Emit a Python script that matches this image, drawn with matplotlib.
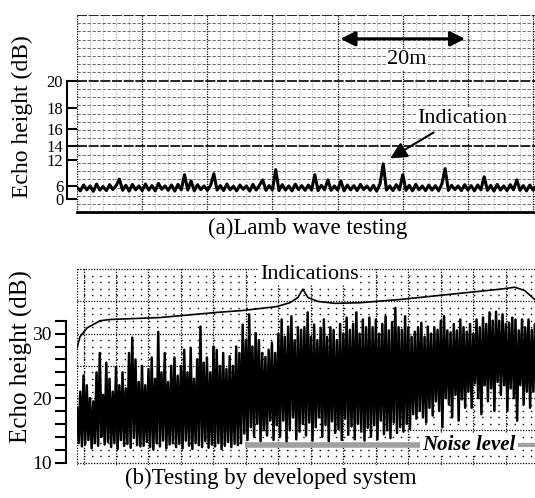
import numpy as np
import matplotlib.pyplot as plt
from matplotlib.ticker import FixedLocator, NullLocator

plt.rcParams['font.family'] = ['Liberation Serif', 'DejaVu Serif']

# (a) Lamb wave testing: recorder trace, echo height (dB) every 0.5 m
lamb_dist = np.arange(0, 71, 0.5)
lamb_db = [5.5, 4.2, 6.3, 4.6, 6.0, 4.0, 6.6, 4.5, 5.8, 4.3, 6.4, 4.7, 6.1, 8.0, 4.4, 6.2, 4.1, 6.5, 4.6, 6.0,
           4.3, 6.6, 4.5, 6.1, 4.2, 6.8, 4.8, 6.0, 4.4, 6.3, 4.1, 6.5, 4.6, 9.1, 4.5, 7.5, 4.2, 6.4, 4.7, 6.0,
           4.4, 6.2, 9.3, 4.5, 6.1, 4.3, 6.6, 4.6, 5.9, 4.2, 6.3, 4.8, 6.0, 4.1, 6.5, 4.5, 6.2, 7.8, 4.4, 6.1,
           4.6, 10.2, 4.3, 6.4, 4.5, 6.0, 4.2, 6.6, 4.7, 6.1, 4.4, 6.3, 4.5, 9.1, 4.3, 6.2, 4.6, 7.8, 4.4, 6.0,
           4.5, 7.5, 4.2, 6.3, 4.6, 6.1, 4.3, 6.5, 4.7, 6.0, 4.4, 6.2, 4.1, 6.6, 11.3, 4.5, 6.0, 4.3, 6.4, 4.6,
           9.1, 4.4, 6.2, 4.2, 6.5, 4.6, 6.0, 4.3, 6.3, 4.5, 6.1, 4.2, 6.6, 10.4, 4.4, 6.2, 4.7, 6.0, 4.3, 6.4,
           4.5, 6.1, 4.2, 6.3, 4.6, 8.6, 4.4, 6.2, 4.1, 6.5, 4.5, 6.0, 4.3, 6.4, 4.6, 7.8, 4.4, 6.1, 4.2, 6.3,
           4.5, 6.0]
lamb_ticks = [0, 6, 12, 14, 16, 18, 20]

# (b) developed system: peak and trough of the echo at each position (chart divisions)
sys_pos = np.linspace(-0.2, 13.9, 142)
sys_peak = [18.5, 21, 23.5, 22, 20, 19.5, 24, 27, 20.5, 25.5,
            23, 21, 24.8, 22, 24, 21.5, 27, 29.4, 26, 22.5,
            25, 22, 24.5, 26.3, 23, 30.3, 24, 27, 22.5, 25,
            26.3, 23.5, 25, 27.5, 24, 27.8, 23, 26, 31.1, 25.5,
            26.3, 24, 28, 27.5, 25, 27, 24.5, 26.5, 25, 28,
            27, 31.4, 29, 33, 28, 30.1, 29, 27, 26.4, 27.5,
            28.6, 27, 30, 32.2, 29.5, 31.1, 32.7, 29, 31, 30.6,
            31, 33.3, 29.5, 31.4, 29, 30.9, 32.2, 29.5, 31, 30.6,
            29, 31.5, 30, 32.5, 30.6, 31.5, 33.3, 30, 32.2, 31,
            32.5, 31, 32.2, 30, 31.5, 32.7, 30.5, 31.8, 34, 31,
            30.6, 32.7, 31, 29.5, 30.3, 31, 31.7, 29.5, 31.1, 30,
            31, 30.6, 32, 32.7, 30.5, 30.2, 31.5, 30.5, 32.2, 31,
            30.3, 31.5, 30, 32.2, 31, 32.5, 31.5, 33.3, 32, 33.4,
            32, 33, 31.5, 31.7, 32.5, 32.2, 30.5, 32.2, 31, 32.2,
            30.6, 31.5]
sys_trough = [13, 12.5, 12.8, 13.5, 12.2, 13, 12.6, 14, 12.8, 13.2,
              12.4, 13, 12.1, 13.5, 12.6, 12.9, 12.3, 13.8, 12.7, 12.5,
              12.6, 13.2, 12.4, 12, 13, 12.5, 13.4, 12.2, 12.8, 13,
              12.4, 12.9, 12.2, 13.4, 12.6, 12.1, 13, 12.7, 12.4, 13.3,
              12.3, 12.8, 12.5, 13, 12.1, 12.6, 13.2, 12.4, 12.9, 12.7,
              13, 14.5, 13.5, 15.5, 14, 16, 13.3, 15, 14.2, 16.5,
              13.5, 15.8, 14, 16.5, 13.2, 15, 17, 13.6, 14.8, 16,
              14.2, 16.2, 13.4, 15.5, 17, 14, 15.8, 13.3, 16.4, 14.6,
              15.2, 13.5, 16.8, 14.3, 15.6, 13.6, 16, 14.8, 13.4, 15.4,
              14, 15.8, 13.6, 16.5, 14.4, 15, 13.8, 16.2, 14.6, 15.5,
              14.8, 16, 15.2, 17.5, 16.8, 18, 17, 16.2, 18.5, 17.3,
              19.5, 18, 15.5, 20, 19, 17, 20.5, 16.5, 19.8, 18.5,
              21, 18.5, 22.3, 20, 17.5, 22, 19.5, 21.5, 18, 22.5,
              20.5, 22, 18, 21.5, 20, 16.5, 22, 19, 21, 18.5,
              21, 19]
sys_ticks = [10, 20, 30]

# curly brace over the indications
brace_x = [-0.2, -0.11, 0.11, 0.51, 0.82, 2.35, 4.11, 4.91, 5.95, 6.35, 6.6, 6.75,
           6.91, 7.22, 7.74, 8.51, 9.74, 11.28, 12.82, 13.28, 13.58, 13.89]
brace_db = [27.8, 29.5, 30.9, 32.0, 32.2, 32.5, 33.3, 33.6, 34.2, 34.8, 35.6, 36.9,
            35.6, 35.0, 34.7, 34.8, 35.3, 36.1, 36.9, 37.2, 36.7, 35.3]
noise_x = [4.97, 10.35]
noise_db = 12.8

fig = plt.figure(figsize=(5.35, 4.98), dpi=100)

# ---------------- (a) ----------------
ax1 = fig.add_axes([0.144, 0.574, 0.856, 0.396])
fwd = lambda d: 10 ** (np.asarray(d) / 20.0)
inv = lambda a: 20 * np.log10(np.clip(a, 1e-9, None))
ax1.set_yscale('function', functions=(fwd, inv))
ax1.set_xlim(0, 70.3)
ax1.set_ylim(-60, 20 * np.log10(15))

# recorder paper grid (linear in amplitude)
for amp in np.arange(0.625, 15.01, 0.625):
    if abs(amp % 5) < 1e-6:
        ax1.axhline(inv(amp), color='black', lw=1.2, ls=(0, (6, 1)), zorder=1)
    else:
        ax1.axhline(inv(amp), color='#555555', lw=0.6, ls=(0, (4, 2)), zorder=1)
for m in np.arange(0, 71, 2):
    if m % 10 == 0:
        ax1.axvline(m, color='black', lw=0.9, ls=(0, (1, 1)), zorder=1)
    else:
        ax1.axvline(m, color='#888888', lw=0.6, ls=(0, (1, 2)), zorder=1)

ax1.plot(lamb_dist, lamb_db, color='black', lw=2.2, zorder=3)

for s in ['top', 'right']:
    ax1.spines[s].set_visible(False)
ax1.spines['bottom'].set_linewidth(2)
ax1.spines['left'].set_position(('outward', 7))
ax1.spines['left'].set_bounds(0, 20)
ax1.spines['left'].set_linewidth(1.5)
ax1.yaxis.set_major_locator(FixedLocator(lamb_ticks))
ax1.yaxis.set_minor_locator(NullLocator())
ax1.set_yticklabels([str(t) for t in lamb_ticks])
ax1.tick_params(axis='y', direction='in', length=7, width=1.5, pad=3, labelsize=12)
ax1.set_xticks([])

ax1.annotate('', xy=(40, 22.4), xytext=(60, 22.4),
             arrowprops=dict(arrowstyle='<|-|>', color='black', lw=2.2, mutation_scale=22))
ax1.text(50.6, 21.3, '20m', fontsize=16, ha='center', va='center',
         bbox=dict(facecolor='white', edgecolor='none', pad=1))
ax1.text(59.2, 17.1, 'Indication', fontsize=16, ha='center', va='center',
         bbox=dict(facecolor='white', edgecolor='none', pad=1))
ax1.annotate('', xy=(47.7, 12.0), xytext=(55.1, 15.8),
             arrowprops=dict(arrowstyle='-|>', color='black', lw=1.5, mutation_scale=25))

# ---------------- (b) ----------------
ax2 = fig.add_axes([0.144, 0.066, 0.856, 0.396])
ax2.set_xlim(-0.2, 13.9)
ax2.set_ylim(9.6, 40.2)

for d in range(10, 41):
    if d % 5 == 0:
        ax2.axhline(d, color='black', lw=0.9, ls=(0, (1, 1.2)), zorder=1)
    else:
        ax2.axhline(d, color='black', lw=1.0, ls=(1.2, (1, 4.85)), zorder=1)
for k in range(0, 14):
    ax2.axvline(k, color='black', lw=0.9, ls=(0, (1, 1.2)), zorder=1)
ax2.axvline(-0.2, color='black', lw=0.9, ls=(0, (1, 1.2)), zorder=1)

xs = np.column_stack([sys_pos, sys_pos + 0.05]).ravel()
ys = np.column_stack([sys_peak, sys_trough]).ravel()
ax2.plot(xs, ys, color='black', lw=1.8, zorder=3)

ax2.plot(noise_x, [noise_db, noise_db], color='#a0a0a0', lw=4, solid_capstyle='butt', zorder=4)
ax2.plot([13.37, 13.9], [noise_db, noise_db], color='#a0a0a0', lw=3, solid_capstyle='butt', zorder=4)
ax2.text(10.42, noise_db, 'Noise level', fontsize=15, fontweight='bold', fontstyle='italic',
         ha='left', va='center', zorder=5,
         bbox=dict(facecolor='white', edgecolor='none', pad=0.5))

ax2.plot(brace_x, brace_db, color='black', lw=1.2, zorder=4)
ax2.text(6.95, 39.2, 'Indications', fontsize=16, ha='center', va='center', zorder=5,
         bbox=dict(facecolor='white', edgecolor='none', pad=1))

for s in ['top', 'right', 'bottom']:
    ax2.spines[s].set_visible(False)
ax2.spines['left'].set_position(('outward', 8))
ax2.spines['left'].set_bounds(10, 32)
ax2.spines['left'].set_linewidth(1.5)
ax2.set_yticks(sys_ticks)
ax2.set_yticks(np.arange(12, 33, 2), minor=True)
ax2.tick_params(axis='y', which='both', direction='out', length=8, width=1.5, labelsize=14, pad=2)
ax2.tick_params(axis='y', which='minor', labelleft=False)
ax2.set_xticks([])

fig.text(0.041, 0.765, 'Echo height (dB)', rotation=90, fontsize=17, ha='center', va='center')
fig.text(0.041, 0.285, 'Echo height (dB)', rotation=90, fontsize=18, ha='center', va='center')
fig.text(0.575, 0.542, '(a)Lamb wave testing', fontsize=16.5, ha='center', va='center')
fig.text(0.507, 0.04, '(b)Testing by developed system', fontsize=16.5, ha='center', va='center')

fig.savefig('out.png', dpi=100)
